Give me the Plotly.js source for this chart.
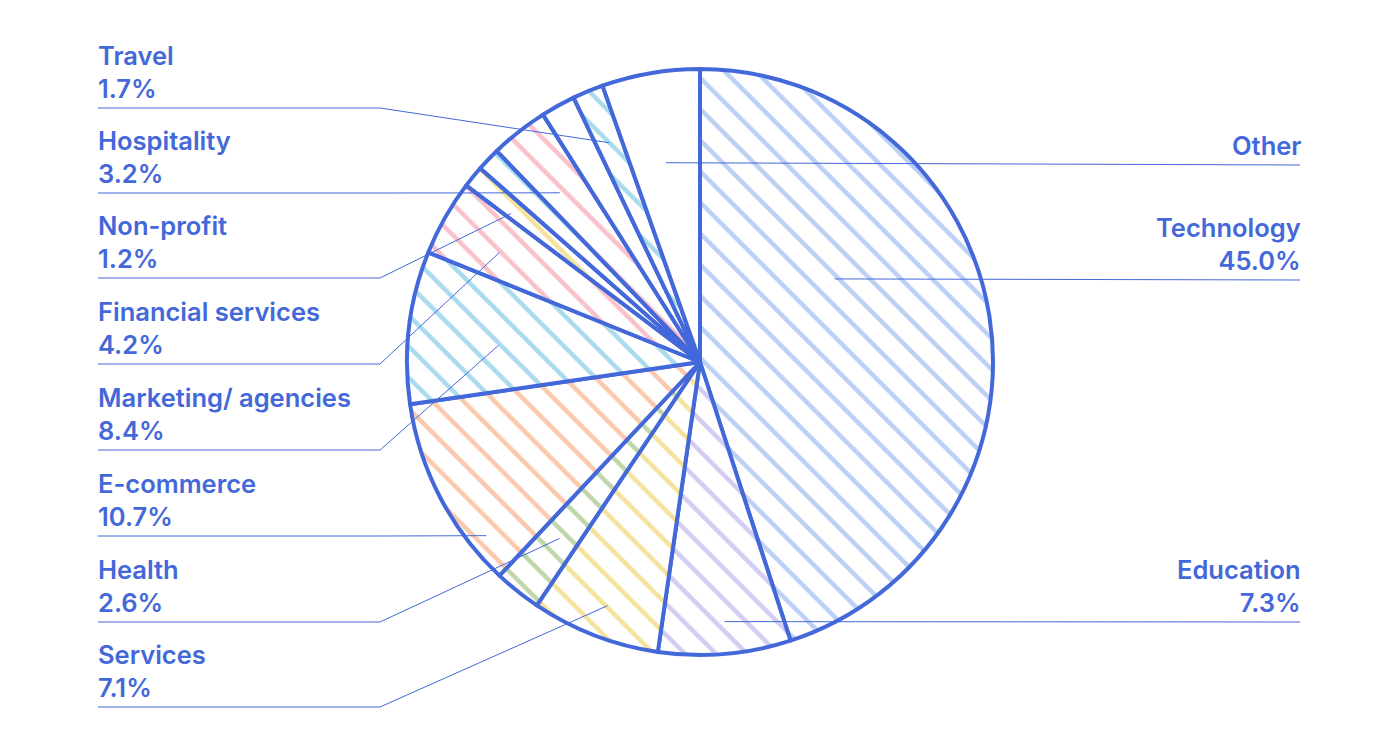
<!DOCTYPE html>
<html><head><meta charset="utf-8">
<script src="https://cdn.plot.ly/plotly-3.0.1.min.js"></script>
<style>html,body{margin:0;padding:0;background:#fff}#chart{width:1400px;height:730px}</style>
</head><body><div id="chart"></div>
<script>
// ---- data ----
const categories = ["Technology","Education","Services","Health","E-commerce","Marketing/ agencies","Financial services","Non-profit","Unlabeled 1","Hospitality","Unlabeled 2","Travel","Other"];
const shares = [45.0, 7.3, 7.1, 2.6, 10.7, 8.4, 4.2, 1.2, 1.3, 3.2, 1.9, 1.7, 5.4];
const showLabel = [true,true,true,true,true,true,true,true,false,true,false,true,true];
const showPercent = [true,true,true,true,true,true,true,true,false,true,false,true,false];

// ---- style ----
const W = 1400, H = 730;
const BLUE = "#4368d9";
const hatchColors = ["#bcd0f6","#d3ccf3","#f5e29c","#bfd7a8","#fbc8ad","#a9daee","#fac1cb","#f5e29c","#a9daee","#fac1cb","#ffffff","#a9daee","#ffffff"];
const hatchShapes = ["\\","\\","\\","\\","\\","\\","\\","\\","\\","\\","","\\",""];
const pieBox = {cx: 700, cy: 362, r: 293};
// label placement: side, underline y (px), position of anchor inside slice
const labelPlace = {
  "Other": {side:"right", y:165, along:0.5, rf:0.69},
  "Technology": {side:"right", y:280, along:0.36, rf:0.54},
  "Education": {side:"right", y:622, along:0.48, rf:0.89},
  "Travel": {side:"left", y:108, along:0.5, rf:0.81},
  "Hospitality": {side:"left", y:193, along:0.37, rf:0.75},
  "Non-profit": {side:"left", y:278, along:0.25, rf:0.82},
  "Financial services": {side:"left", y:364, along:0.44, rf:0.78},
  "Marketing/ agencies": {side:"left", y:450, along:0.43, rf:0.69},
  "E-commerce": {side:"left", y:536, along:0.2, rf:0.94},
  "Health": {side:"left", y:622, along:0.5, rf:0.77},
  "Services": {side:"left", y:707, along:0.49, rf:0.89}
};
const LEFT_X = 98, LEFT_BEND = 380, RIGHT_X = 1300;

const px = x => x / W;
const py = y => 1 - y / H;

const total = shares.reduce((a,b)=>a+b,0);
let cum = 0;
const annotations = [], shapes = [];
categories.forEach((cat, i) => {
  const start = cum / total * 360;
  cum += shares[i];
  const end = cum / total * 360;
  if (!showLabel[i]) return;
  const p = labelPlace[cat];
  const th = (start + (end - start) * p.along) * Math.PI / 180;
  const ax = pieBox.cx + p.rf * pieBox.r * Math.sin(th);
  const ay = pieBox.cy - p.rf * pieBox.r * Math.cos(th);
  const txt = showPercent[i] ? cat + "<br>" + shares[i].toFixed(1) + "%" : cat;
  if (p.side === "left") {
    annotations.push({x: px(LEFT_X - 2), y: py(p.y - 2), xref:"paper", yref:"paper", xanchor:"left", yanchor:"bottom", align:"left", text: txt, showarrow:false});
    const bend = Math.min(LEFT_BEND, ax);
    shapes.push({type:"path", xref:"paper", yref:"paper", path:`M ${px(LEFT_X)} ${py(p.y)} L ${px(bend)} ${py(p.y)} L ${px(ax)} ${py(ay)}`, line:{color:BLUE, width:1}});
  } else {
    annotations.push({x: px(RIGHT_X + 3), y: py(p.y - 2), xref:"paper", yref:"paper", xanchor:"right", yanchor:"bottom", align:"right", text: txt, showarrow:false});
    shapes.push({type:"path", xref:"paper", yref:"paper", path:`M ${px(RIGHT_X)} ${py(p.y)} L ${px(ax)} ${py(ay)}`, line:{color:BLUE, width:1}});
  }
});

const trace = {
  type: "pie",
  labels: categories,
  values: shares,
  sort: false,
  direction: "clockwise",
  rotation: 0,
  textinfo: "none",
  hoverinfo: "label+percent",
  domain: {x: [px(pieBox.cx - pieBox.r), px(pieBox.cx + pieBox.r)], y: [py(pieBox.cy + pieBox.r), py(pieBox.cy - pieBox.r)]},
  marker: {
    colors: categories.map(()=>"#ffffff"),
    line: {color: BLUE, width: 4},
    pattern: {shape: hatchShapes, fgcolor: hatchColors, bgcolor: "#ffffff", size: 22, solidity: 0.2, fillmode: "replace"}
  }
};

const layout = {
  width: W, height: H,
  margin: {l:0, r:0, t:0, b:0},
  paper_bgcolor: "#ffffff",
  showlegend: false,
  font: {family: "Inter, 'Open Sans', sans-serif", size: 25.5, color: BLUE, weight: 600},
  annotations: annotations,
  shapes: shapes
};

Plotly.newPlot("chart", [trace], layout, {displayModeBar: false, staticPlot: true});
</script>
</body></html>
